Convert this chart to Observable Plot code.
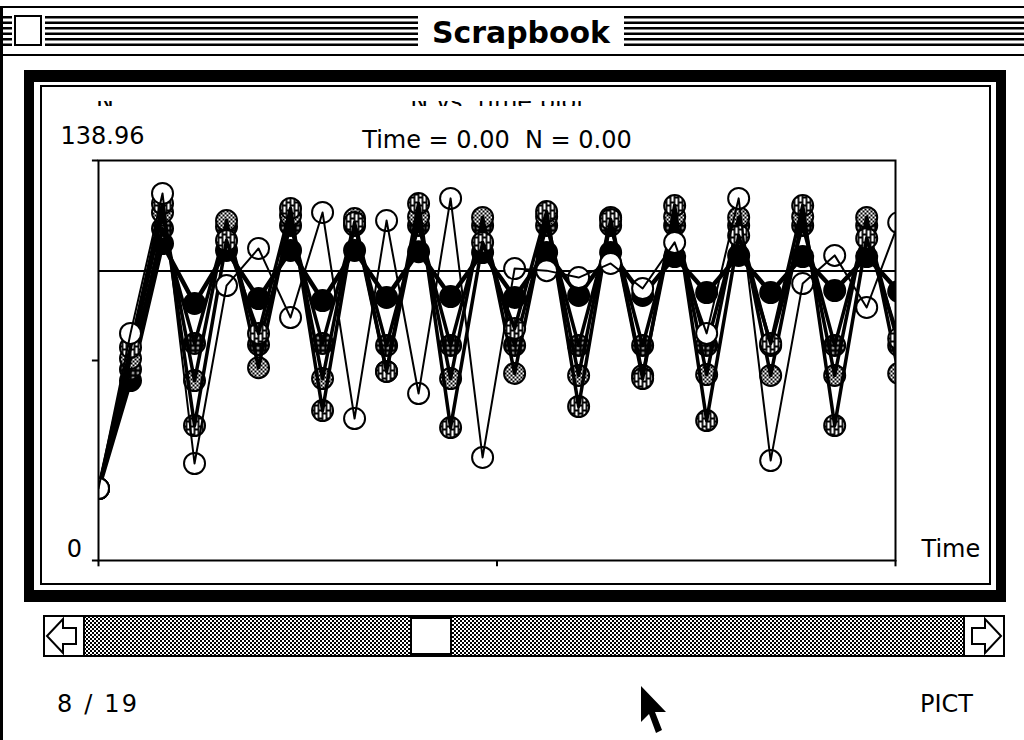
<!DOCTYPE html>
<html>
<head>
<meta charset="utf-8">
<script src="https://cdn.jsdelivr.net/npm/d3@7"></script>
<script src="https://cdn.jsdelivr.net/npm/@observablehq/plot@0.6"></script>
<style>
  html, body { margin: 0; padding: 0; background: #fff; width: 1024px; height: 740px; overflow: hidden; }
  #page { position: relative; width: 1024px; height: 740px; font-family: "DejaVu Sans", sans-serif; }
  #chrome, #chart, #heading { position: absolute; left: 0; top: 0; }
  #chart { z-index: 1; }
  #heading { z-index: 2; top: 96px; width: 1024px; height: 10px; overflow: hidden; }
  svg text { white-space: pre; }
</style>
</head>
<body>
<div id="page">
  <!-- Scrapbook window: title bar, picture frame, scroll bar, footer -->
  <svg id="chrome" width="1024" height="740" xmlns="http://www.w3.org/2000/svg">
    <defs>
      <pattern id="pat-scroll" width="4" height="4" patternUnits="userSpaceOnUse">
        <rect width="4" height="4" fill="#fff"/>
        <rect width="2" height="2" fill="#000"/>
        <rect x="2" y="2" width="2" height="2" fill="#000"/>
      </pattern>
      <pattern id="pat-gray" width="4" height="4" patternUnits="userSpaceOnUse">
        <rect width="4" height="4" fill="#fff"/>
        <rect width="2" height="2" fill="#000"/>
        <rect x="2" y="2" width="2" height="2" fill="#000"/>
      </pattern>
      <pattern id="pat-grid" width="5" height="5" patternUnits="userSpaceOnUse">
        <rect width="5" height="5" fill="#000"/>
        <rect x="1.5" y="1.5" width="2" height="2" fill="#fff"/>
      </pattern>
      <pattern id="pat-weave" width="8" height="8" patternUnits="userSpaceOnUse">
        <rect width="8" height="8" fill="#fff"/>
        <path d="M2 0V8M6 0V8M0 2H2M6 2H8M2 5H6" stroke="#000" stroke-width="1.8" fill="none"/>
      </pattern>
    </defs>

    <!-- window outline -->
    <rect x="0" y="6" width="1024" height="2" fill="#000"/>
    <rect x="0" y="6" width="3" height="734" fill="#000"/>

    <!-- title bar stripes -->
    <g fill="#000">
      <rect x="3" y="16" width="1021" height="2.5"/>
      <rect x="3" y="21.5" width="1021" height="2.5"/>
      <rect x="3" y="27" width="1021" height="2.5"/>
      <rect x="3" y="32.5" width="1021" height="2.5"/>
      <rect x="3" y="38" width="1021" height="2.5"/>
      <rect x="3" y="43.5" width="1021" height="2.5"/>
    </g>
    <rect x="12" y="12" width="33" height="38" fill="#fff"/>
    <rect x="15" y="16" width="26" height="29" fill="#fff" stroke="#000" stroke-width="2"/>
    <rect x="418" y="10" width="206" height="42" fill="#fff"/>
    <text x="521" y="43" text-anchor="middle" font-family="'DejaVu Sans Condensed', 'DejaVu Sans', sans-serif"
          font-weight="bold" font-size="30" textLength="178" lengthAdjust="spacingAndGlyphs">Scrapbook</text>
    <rect x="0" y="54" width="1024" height="2" fill="#000"/>

    <!-- picture frame -->
    <rect x="24" y="70" width="982" height="532" fill="#000"/>
    <rect x="34" y="82" width="962" height="508" fill="#fff"/>
    <rect x="41" y="86" width="949" height="498" fill="none" stroke="#000" stroke-width="2"/>

    <!-- scroll bar -->
    <rect x="44" y="616" width="960" height="40" fill="url(#pat-scroll)" stroke="#000" stroke-width="2"/>
    <rect x="45" y="617" width="39" height="38" fill="#fff"/>
    <rect x="964" y="617" width="39" height="38" fill="#fff"/>
    <rect x="83" y="616" width="2" height="40" fill="#000"/>
    <rect x="963" y="616" width="2" height="40" fill="#000"/>
    <polygon points="47,636 63,619 63,628 76,628 76,644 63,644 63,653" fill="#fff" stroke="#000" stroke-width="2"/>
    <polygon points="1001,636 985,619 985,628 972,628 972,644 985,644 985,653" fill="#fff" stroke="#000" stroke-width="2"/>
    <rect x="411" y="616" width="40" height="40" fill="#fff" stroke="#000" stroke-width="2"/>
    <rect x="410" y="615" width="42" height="4" fill="#000"/>
    <rect x="410" y="653" width="42" height="4" fill="#000"/>

    <!-- footer -->
    <text x="57" y="712" font-family="'DejaVu Sans', sans-serif" font-size="24" textLength="80" lengthAdjust="spacing">8 / 19</text>
    <text x="920" y="712" font-family="'DejaVu Sans', sans-serif" font-size="24">PICT</text>

    <!-- mouse pointer -->
    <polygon points="641,686 641,722 649,714 656,733 662,730 655,712 666,712" fill="#000"/>
  </svg>

  <div id="chart"></div>

  <!-- picture heading, cut off by the top of the frame -->
  <div id="heading">
    <svg width="1024" height="10" viewBox="0 96 1024 10" xmlns="http://www.w3.org/2000/svg">
      <text x="96" y="105" font-family="'DejaVu Sans', sans-serif" font-size="24">N</text>
      <text x="498" y="105" text-anchor="middle" font-family="'DejaVu Sans', sans-serif" font-size="24">N vs. time plot</text>
    </svg>
  </div>
</div>

<script>
// Discrete logistic growth, population N per time step, five growth rates
const steps = [0, 1, 2, 3, 4, 5, 6, 7, 8, 9, 10, 11, 12, 13, 14, 15, 16, 17, 18, 19, 20, 21, 22, 23, 24, 25];

const nRate20 = [25.0, 62.5, 110.1, 89.3, 107.7, 91.0, 107.7, 90.3, 107.7, 91.4, 107.3, 91.7, 107.0,
                 91.4, 107.0, 92.1, 107.0, 92.1, 105.6, 93.1, 106.0, 93.1, 105.6, 93.8, 105.6, 93.5];
const nRate22 = [25.0, 66.4, 115.3, 75.4, 116.0, 75.0, 116.4, 75.4, 116.4, 74.7, 116.4, 74.7, 116.4,
                 74.7, 116.4, 74.7, 116.4, 74.7, 116.4, 74.7, 116.4, 74.7, 116.4, 74.7, 116.4, 74.7];
const nRate24 = [25.0, 70.2, 120.9, 62.5, 118.1, 67.0, 119.9, 63.2, 118.8, 65.7, 119.5, 63.2, 119.2,
                 65.0, 119.5, 64.3, 119.2, 64.3, 119.5, 64.6, 119.2, 64.3, 119.5, 64.3, 119.2, 65.0];
const nRate26 = [25.0, 74.0, 124.0, 46.9, 111.2, 78.9, 122.3, 52.1, 117.4, 65.7, 124.0, 46.2, 110.5,
                 80.6, 121.2, 53.5, 118.5, 63.2, 123.3, 48.6, 112.9, 75.4, 123.3, 46.9, 111.9, 77.1];
const nRate28 = [25.0, 78.9, 127.5, 33.7, 95.5, 108.4, 84.4, 120.9, 49.3, 118.1, 58.0, 125.8, 35.8,
                 101.4, 100.7, 98.3, 103.2, 94.5, 110.5, 78.9, 125.8, 34.7, 96.2, 106.0, 87.9, 117.4];

const seriesNames = ["r = 2.0", "r = 2.2", "r = 2.4", "r = 2.6", "r = 2.8"];
const seriesValues = [nRate20, nRate22, nRate24, nRate26, nRate28];

const carryingCapacity = 100.6;
const nMax = 138.96;
const timeEnd = 24.9;
const yTickValues = [0, 69.48, 138.96];
const xTickValues = [0, 12.45, 24.9];
const yTickLabels = ["0", "138.96"];
const xAxisLabel = "Time";
const readout = "Time = 0.00  N = 0.00";

// marker fill and connecting-line weight per series (solid, three screen patterns, hollow)
const markerFill = ["black", "url(#pat-grid)", "url(#pat-gray)", "url(#pat-weave)", "white"];
const lineWeight = [4.5, 3.5, 3.5, 3.5, 2];

const rows = seriesNames.flatMap((name, i) =>
  steps.map((t, j) => ({series: name, t, n: seriesValues[i][j]}))
);

const seriesMarks = seriesNames.flatMap((name, i) => {
  const d = rows.filter((r) => r.series === name);
  return [
    Plot.dot(d, {x: "t", y: "n", r: 10.5, fill: markerFill[i], stroke: "black", strokeWidth: 2, clip: true}),
    Plot.line(d, {x: "t", y: "n", stroke: "black", strokeWidth: lineWeight[i], clip: true})
  ];
});

const label = {fontSize: 24, fill: "black", lineAnchor: "middle"};

const chart = Plot.plot({
  width: 1024,
  height: 740,
  marginLeft: 98,
  marginRight: 129,
  marginTop: 160,
  marginBottom: 180,
  style: {background: "transparent", fontFamily: "'DejaVu Sans', sans-serif", overflow: "visible"},
  x: {domain: [0, timeEnd], axis: null},
  y: {domain: [0, nMax], axis: null},
  marks: [
    Plot.ruleY([carryingCapacity], {stroke: "black", strokeWidth: 2}),
    ...seriesMarks,
    Plot.frame({stroke: "black", strokeWidth: 2}),
    Plot.ruleY(yTickValues, {x1: -0.19, x2: 0, stroke: "black", strokeWidth: 2}),
    Plot.ruleX(xTickValues, {y1: 0, y2: -2.2, stroke: "black", strokeWidth: 2}),
    Plot.text([yTickLabels[1]], {...label, text: (d) => d, frameAnchor: "top-left", textAnchor: "start", dx: -38, dy: -24}),
    Plot.text([yTickLabels[0]], {...label, text: (d) => d, frameAnchor: "bottom-left", textAnchor: "middle", dx: -24, dy: -11}),
    Plot.text([xAxisLabel], {...label, text: (d) => d, frameAnchor: "bottom-right", textAnchor: "start", dx: 26, dy: -11}),
    Plot.text([readout], {...label, text: (d) => d, frameAnchor: "top", dy: -20})
  ]
});

document.getElementById("chart").appendChild(chart);
</script>
</body>
</html>
